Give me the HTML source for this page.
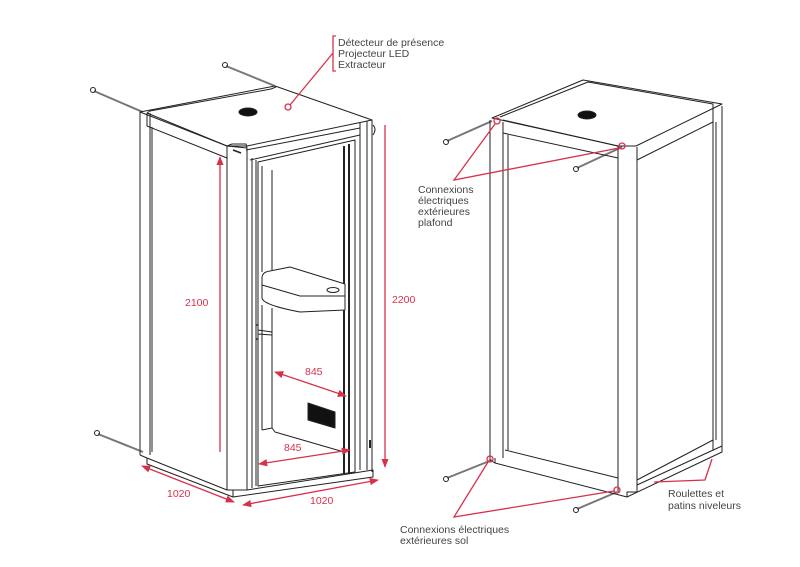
<!DOCTYPE html>
<html><head><meta charset="utf-8"><style>
html,body{margin:0;padding:0;background:#fff;}
svg{display:block;}
text{font-family:"Liberation Sans",sans-serif;}
</style></head><body>
<svg width="800" height="567" viewBox="0 0 800 567" xmlns="http://www.w3.org/2000/svg">
<defs>
<marker id="a" viewBox="0 0 10 10" refX="9" refY="5" markerWidth="7" markerHeight="7" orient="auto-start-reverse"><path d="M0,1 L10,5 L0,9 z" fill="#d9304a"/></marker>
</defs>
<g fill="none" stroke="#222" stroke-width="1" stroke-linejoin="round">
<line x1="94" y1="91" x2="145" y2="113" stroke-width="2" stroke="#777"/>
<circle cx="93" cy="90" r="2.5"/>
<line x1="226" y1="66" x2="275" y2="86" stroke-width="2" stroke="#777"/>
<circle cx="225" cy="65" r="2.5"/>
<line x1="98" y1="434" x2="143" y2="452" stroke-width="2" stroke="#777"/>
<circle cx="97" cy="433" r="2.5"/>
<path d="M140,112 L275,86 L372,120 L247,146 L227,146 Z" fill="#fff"/>
<path d="M147,113 L150,111 L271,89 L276,87"/>
<path d="M147,113 L147,126 L227,158"/>
<path d="M147,113 L227,146"/>
<path d="M246,150 L360,128 L360,122"/>
<path d="M250,160 L360,135"/>
<ellipse cx="248" cy="112" rx="9" ry="4" fill="#111"/>
<path d="M140,112 L140,455 M150,113 L150,455 M152,127 L152,452"/>
<path d="M227,146 L227,490 L247,490 L247,148 L227,146 M227,146 L232,144 L246,144 L247,148"/>
<line x1="233" y1="150" x2="241" y2="153" stroke-width="1.5"/>
<path d="M360,122 L360,470 M372,120 L372,472 M367,121 L367,470"/>
<path d="M373,125 q4,4 0,10"/>
<path d="M140,455 L147,458 L227,490 M147,458 L147,464 L233,497 L373,477 L373,470 L247,490"/>
<path d="M233,497 L233,490"/>
<path d="M252,158 L252,488 M256,160 L256,486 M258,162 L355,140 L355,472 L258,486 Z"/>
<path d="M344,146 L344,474 M349,144 L349,474" stroke-width="2"/>
<path d="M262,166 L262,272 M272,170 L272,270 M262,305 L262,430 M272,308 L272,428"/>
<path d="M262,430 L272,428 L275,432 L344,452"/>
<path d="M262,278 Q262,272 270,271 L290,267 L345,284 L345,310 L300,312 Q263,305 262,298 Z" fill="#fff"/>
<path d="M262,285 L300,296 L345,296"/>
<ellipse cx="333" cy="290" rx="6" ry="2.5"/>
<path d="M256,326 L258,324 L258,338 L256,340 M258,330 L272,332 L272,335 L258,334"/>
<path d="M308,403 L335,412 L335,428 L308,420 Z" fill="#111"/>
<path d="M370,440 L370,448" stroke-width="2"/>
<line x1="447" y1="141" x2="492" y2="121" stroke-width="2" stroke="#777"/><circle cx="446" cy="142" r="2.5"/>
<line x1="577" y1="168" x2="622" y2="147" stroke-width="2" stroke="#777"/><circle cx="576" cy="169" r="2.5"/>
<line x1="447" y1="478" x2="492" y2="460" stroke-width="2" stroke="#777"/><circle cx="446" cy="479" r="2.5"/>
<line x1="577" y1="509" x2="617" y2="492" stroke-width="2" stroke="#777"/><circle cx="576" cy="510" r="2.5"/>
<path d="M492,118 L583,80 L722,104 L636,146 L618,146 Z" fill="#fff"/>
<path d="M500,117 L588,82 L713,104 L713,110"/>
<path d="M503,120 L618,146 M503,133 L618,158"/>
<path d="M637,160 L713,122"/>
<ellipse cx="587" cy="115" rx="9" ry="4" fill="#111"/>
<path d="M490,120 L490,460 M503,122 L503,458 M508,135 L508,450"/>
<path d="M618,146 L618,492 M637,147 L637,492"/>
<path d="M713,104 L713,450 M722,106 L722,448 M716,122 L716,440"/>
<path d="M490,460 L495,463 L627,497 L722,452 L722,446 L637,485"/>
<path d="M495,458 L495,463 M505,450 L618,478 M637,480 L713,440"/>
<path d="M627,497 L627,492 L637,492"/>
</g>
<g stroke="#d9304a" fill="none" stroke-width="1.3">
<path d="M336,36 L333,36 L333,71 L336,71"/>
<path d="M333,53 L290,105"/>
<circle cx="288" cy="107" r="3" fill="#fff"/>
<line x1="220" y1="452" x2="220" y2="157" marker-end="url(#a)"/>
<line x1="385" y1="125" x2="385" y2="467" marker-end="url(#a)"/>
<line x1="275" y1="372" x2="346" y2="396" marker-start="url(#a)" marker-end="url(#a)"/>
<line x1="259" y1="464" x2="350" y2="450" marker-start="url(#a)" marker-end="url(#a)"/>
<line x1="142" y1="466" x2="234" y2="502" marker-start="url(#a)" marker-end="url(#a)"/>
<line x1="243" y1="505" x2="378" y2="480" marker-start="url(#a)" marker-end="url(#a)"/>
<circle cx="497" cy="121" r="3"/>
<circle cx="622" cy="146" r="3"/>
<path d="M495,124 L454,180 L619,148"/>
<circle cx="490" cy="459" r="3"/>
<circle cx="617" cy="490" r="3"/>
<path d="M488,462 L454,517 L614,491"/>
<path d="M654,482 L705,480 L712,459"/>
</g>
<g fill="#444" font-size="10.5">
<text x="338" y="46">Détecteur de présence</text>
<text x="338" y="57">Projecteur LED</text>
<text x="338" y="68">Extracteur</text>
<text x="418" y="193">Connexions</text>
<text x="418" y="204">électriques</text>
<text x="418" y="215">extérieures</text>
<text x="418" y="226">plafond</text>
<text x="668" y="497">Roulettes et</text>
<text x="668" y="509">patins niveleurs</text>
<text x="400" y="533">Connexions électriques</text>
<text x="400" y="544">extérieures sol</text>
</g>
<g fill="#d9304a" font-size="10.5">
<text x="185" y="306">2100</text>
<text x="392" y="303">2200</text>
<text x="305" y="375">845</text>
<text x="284" y="451">845</text>
<text x="167" y="497">1020</text>
<text x="310" y="504">1020</text>
</g>
</svg>
</body></html>
